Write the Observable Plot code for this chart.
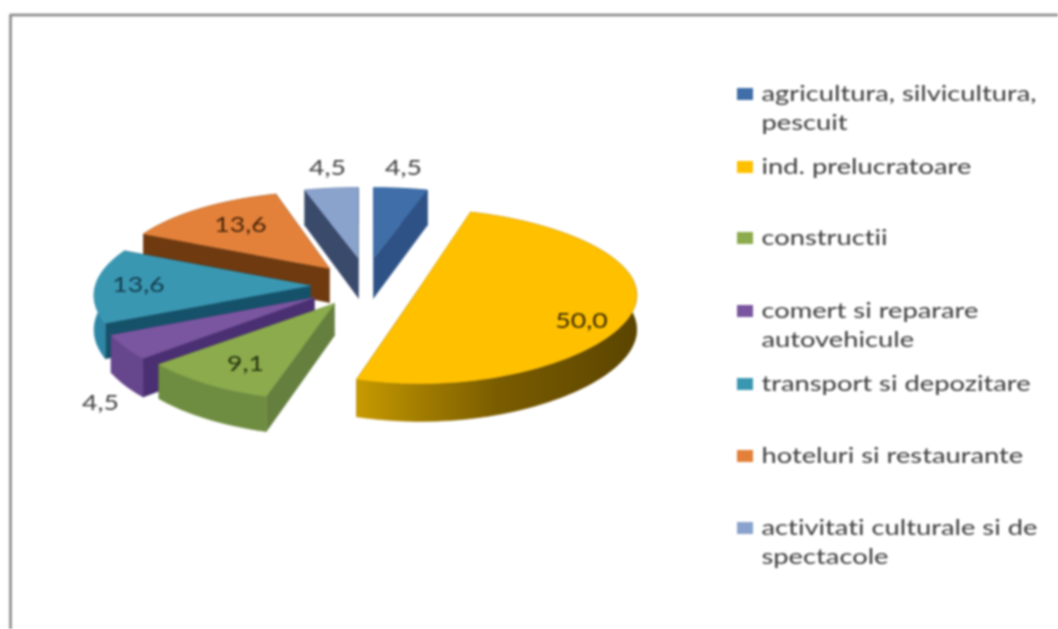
<!DOCTYPE html>
<html>
<head>
<meta charset="utf-8">
<script src="https://cdn.jsdelivr.net/npm/d3@7"></script>
<script src="https://cdn.jsdelivr.net/npm/@observablehq/plot@0.6"></script>
<style>html,body{margin:0;padding:0;background:#fff}svg{display:block}svg text{font-variant-ligatures:none}</style>
</head>
<body>
<div id="chart"></div>
<script>
// Data
const categories = [
  "agricultura, silvicultura, pescuit", "ind. prelucratoare", "constructii",
  "comert si reparare autovehicule", "transport si depozitare",
  "hoteluri si restaurante", "activitati culturale si de spectacole"
];
const values = [4.5, 50.0, 9.1, 4.5, 13.6, 13.6, 4.5];
const valueLabels = ["4,5", "50,0", "9,1", "4,5", "13,6", "13,6", "4,5"];
const legendLines = [
  ["agricultura, silvicultura,", "pescuit"], ["ind. prelucratoare"], ["constructii"],
  ["comert si reparare", "autovehicule"], ["transport si depozitare"],
  ["hoteluri si restaurante"], ["activitati culturale si de", "spectacole"]
];

// Style and layout of each slice
const topColors  = ["#3f6ea9", "#ffc000", "#8bab4c", "#7a56a0", "#3a97b2", "#e3813a", "#8aa3cd"];
const edgeColors = ["#2f5286", "#8a6800", "#647f3e", "#4a3072", "#15526a", "#6f3a10", "#3a4a6b"];
const arcColors  = ["#2f5286", "url(#goldWall)", "#6f8d40", "#66468c", "#2e86a6", "#6f3a10", "#3a4a6b"];
const apex = [[373,258],[420,286],[334,303],[314,297],[310,285],[329,268],[358,258]];
const shrink = [0.92, 1, 1, 1, 1, 1, 0.92];
const bulge = [-0.1, 0.07, 0, 0.055, 0, 0, -0.1];
const depth = [43, 34, 32, 36, 34, 34, 43];
const labelAt = [[403,168],[581,321],[245,364],[100,403],[138,285],[240,225],[327,168]];
const labelFill = ["#404040","#3a2c00","#26330f","#404040","#123c4c","#4a2508","#404040"];
const legendY = [94, 167, 238, 311, 384, 456, 528];
const paintOrder = [5, 4, 3, 2, 0, 6, 1];

// Perspective projection of the pie plane
const A = 215, B = 87, K = 0.115, LINE = 28.5;
const pie = d3.pie().sort(null).value(d => d)(values);
function project(i, angle, r, lift) {
  const u = r * Math.sin(angle), v = r * Math.cos(angle);
  const s = (1 - K * v) * shrink[i];
  return {x: apex[i][0] + A * u * s * (1 - bulge[i] * v * v), y: apex[i][1] - B * v * s + (lift ? depth[i] * s : 0)};
}
function slicePolys(i) {
  const a0 = pie[i].startAngle, a1 = pie[i].endAngle;
  const n = Math.max(4, Math.ceil((a1 - a0) / 0.03));
  const angles = d3.range(n + 1).map(j => a0 + (a1 - a0) * j / n);
  const edge = a => [project(i,0,0,false), project(i,a,1,false), project(i,a,1,true), project(i,0,0,true)];
  const rim = [...angles.map(a => project(i,a,1,false)), ...angles.slice().reverse().map(a => project(i,a,1,true))];
  const top = [project(i,0,0,false), ...angles.map(a => project(i,a,1,false))];
  return [
    {pts: edge(a0), fill: edgeColors[i]},
    {pts: edge(a1), fill: edgeColors[i]},
    {pts: rim, fill: arcColors[i]},
    {pts: top, fill: topColors[i]}
  ];
}
const polys = paintOrder.flatMap(slicePolys);

const defs = () => {
  const d = d3.create("svg:defs");
  const g = d.append("linearGradient").attr("id","goldWall")
    .attr("gradientUnits","userSpaceOnUse").attr("x1",357).attr("x2",638).attr("y1",0).attr("y2",0);
  [[0,"#c79a00"],[0.22,"#a27d00"],[0.5,"#7a5c00"],[1,"#5a4400"]].forEach(([o,c]) =>
    g.append("stop").attr("offset",o).attr("stop-color",c));
  return d.node();
};

const legendRows = legendLines.flatMap((lines,i) =>
  lines.map((t,j) => ({t, x: 761, y: legendY[i] + j * LINE})));
const swatches = legendY.map((y,i) => ({y1: y-6, y2: y+6, x1: 737, x2: 753, fill: topColors[i]}));
const labels = valueLabels.map((t,i) => ({t, x: labelAt[i][0], y: labelAt[i][1], fill: labelFill[i]}));

// The reference text is horizontally stretched
const stretch = f => (index, scales, values, dims, ctx, next) => {
  const g = next(index, scales, values, dims, ctx);
  g.querySelectorAll("text").forEach(t =>
    t.setAttribute("transform", (t.getAttribute("transform") || "") + ` scale(${f},1)`));
  return g;
};

const font = "Lato, sans-serif";
const chart = Plot.plot({
  width: 1058, height: 629, margin: 0, axis: null,
  x: {domain: [0,1058], range: [0,1058]},
  y: {domain: [0,629], range: [0,629]},
  style: {background: "#fff", filter: "blur(0.8px)"},
  marks: [
    defs,
    Plot.line([{x:10,y:629},{x:10,y:14.5},{x:1058,y:14.5}], {x:"x", y:"y", stroke:"#858585", strokeWidth:2.5, curve:"linear"}),
    ...polys.map(p => Plot.line(p.pts, {x:"x", y:"y", fill:p.fill, stroke:p.fill, strokeWidth:0.6, curve:"linear"})),
    Plot.text(labels, {x:"x", y:"y", text:"t", fill:"fill", fontFamily:font, fontSize:20.5, render: stretch(1.3)}),
    Plot.rect(swatches, {x1:"x1", x2:"x2", y1:"y1", y2:"y2", fill:"fill"}),
    Plot.text(legendRows, {x:"x", y:"y", text:"t", textAnchor:"start", fill:"#3a3a3a", fontFamily:font, fontSize:21.5, render: stretch(1.27)})
  ]
});
document.getElementById("chart").appendChild(chart);
</script>
</body>
</html>
